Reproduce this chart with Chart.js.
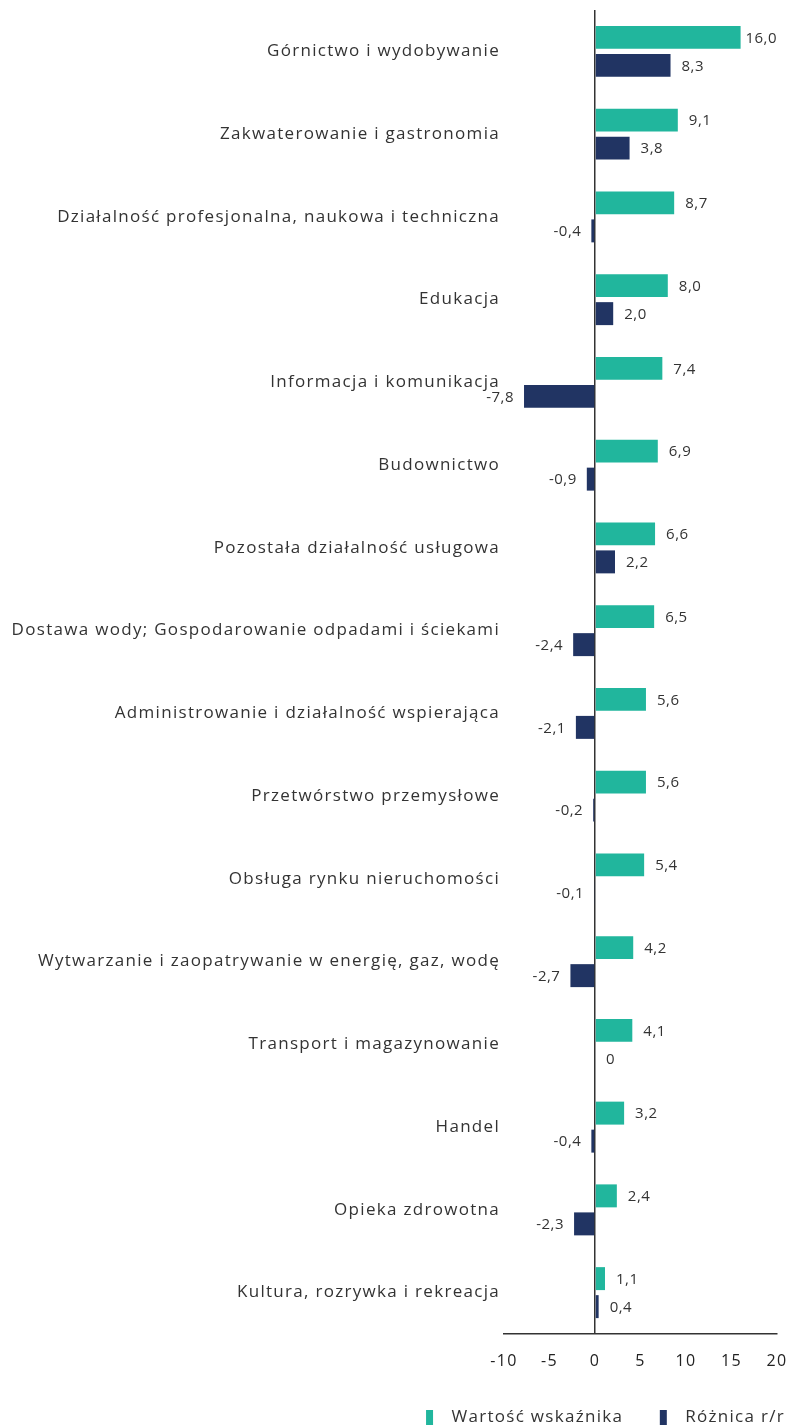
<!DOCTYPE html>
<html lang="pl">
<head>
<meta charset="utf-8">
<script src="https://cdn.jsdelivr.net/npm/chart.js@4.4.0/dist/chart.umd.min.js"></script>
<style>
  html, body { margin: 0; padding: 0; background: #fff; }
  #wrap { width: 793px; height: 1426px; position: relative; }
</style>
</head>
<body>
<div id="wrap"><canvas id="chart"></canvas></div>
<script>
const categories = [
  'Górnictwo i wydobywanie',
  'Zakwaterowanie i gastronomia',
  'Działalność profesjonalna, naukowa i techniczna',
  'Edukacja',
  'Informacja i komunikacja',
  'Budownictwo',
  'Pozostała działalność usługowa',
  'Dostawa wody; Gospodarowanie odpadami i ściekami',
  'Administrowanie i działalność wspierająca',
  'Przetwórstwo przemysłowe',
  'Obsługa rynku nieruchomości',
  'Wytwarzanie i zaopatrywanie w energię, gaz, wodę',
  'Transport i magazynowanie',
  'Handel',
  'Opieka zdrowotna',
  'Kultura, rozrywka i rekreacja'
];
const wartosc = [16.0, 9.1, 8.7, 8.0, 7.4, 6.9, 6.6, 6.5, 5.6, 5.6, 5.4, 4.2, 4.1, 3.2, 2.4, 1.1];
const roznica = [8.3, 3.8, -0.4, 2.0, -7.8, -0.9, 2.2, -2.4, -2.1, -0.2, -0.1, -2.7, 0, -0.4, -2.3, 0.4];
const xMin = -10, xMax = 20, xStep = 5;

const FONT = '"Open Sans", "Noto Sans", sans-serif';
const TEXT = '#333333';
const BOTTOM_SPACE = 92;   // x labels + legend under the plot

const fmt = v => v === 0 ? '0' : v.toFixed(1).replace('.', ',');

// a bit of tracking so the labels run wider
const spacing = {
  id: 'spacing',
  beforeLayout(chart) { chart.ctx.letterSpacing = '1.3px'; },
  beforeDraw(chart) { chart.ctx.letterSpacing = '1.3px'; }
};

// value labels next to each bar
const valueLabels = {
  id: 'valueLabels',
  afterDatasetsDraw(chart) {
    const { ctx, chartArea } = chart;
    ctx.save();
    ctx.letterSpacing = '0.5px';
    ctx.font = '15px ' + FONT;
    ctx.fillStyle = TEXT;
    ctx.textBaseline = 'middle';
    chart.data.datasets.forEach((ds, i) => {
      chart.getDatasetMeta(i).data.forEach((bar, j) => {
        const v = ds.data[j];
        const txt = fmt(v);
        const w = ctx.measureText(txt).width;
        if (v < 0) {
          ctx.textAlign = 'right';
          ctx.fillText(txt, bar.x - 10, bar.y + 1);
        } else {
          ctx.textAlign = 'left';
          let x = bar.x + 11;
          if (x + w > chartArea.right) x = chartArea.right - w;
          ctx.fillText(txt, x, bar.y + 1);
        }
      });
    });
    ctx.restore();
  }
};

new Chart(document.getElementById('chart'), {
  type: 'bar',
  data: {
    labels: categories,
    datasets: [
      { label: 'Wartość wskaźnika', data: wartosc, backgroundColor: '#21b69d' },
      { label: 'Różnica r/r', data: roznica, backgroundColor: '#213463' }
    ]
  },
  options: {
    indexAxis: 'y',
    responsive: true,
    maintainAspectRatio: false,
    animation: false,
    categoryPercentage: 0.677,
    barPercentage: 0.82,
    layout: { padding: { top: 10, right: 0, left: 0, bottom: -10 } },
    scales: {
      x: {
        min: xMin,
        max: xMax,
        ticks: {
          stepSize: xStep,
          color: '#222',
          font: { family: FONT, size: 16 },
          padding: 18,
          callback: v => String(v)
        },
        grid: {
          drawTicks: false,
          lineWidth: 1.5,
          color: c => (c.tick && c.tick.value === 0) ? '#333' : 'rgba(0,0,0,0)'
        },
        border: { display: true, color: '#333', width: 1.5 },
        afterFit(scale) {
          scale.height = BOTTOM_SPACE + 10 - scale.chart.legend.height;
          scale.paddingLeft = 0;
          scale.paddingRight = 16;
        }
      },
      y: {
        ticks: {
          color: TEXT,
          font: { family: FONT, size: 17 },
          padding: 4
        },
        grid: { display: false, drawTicks: false },
        border: { display: false },
        afterFit(scale) {
          scale.width = 504;
          scale.paddingTop = 0;
          scale.paddingBottom = 0;
        }
      }
    },
    plugins: {
      tooltip: { enabled: false },
      legend: {
        position: 'bottom',
        align: 'end',
        labels: {
          boxWidth: 7,
          boxHeight: 15,
          padding: 8,
          color: TEXT,
          font: { family: FONT, size: 17 },
          generateLabels(chart) {
            const items = Chart.defaults.plugins.legend.labels.generateLabels(chart);
            items.forEach((item, i) => {
              item.text = ' \u2009' + item.text + (i < items.length - 1 ? '     ' : '');
              item.lineWidth = 0;
            });
            return items;
          }
        }
      }
    }
  },
  plugins: [spacing, valueLabels]
});
</script>
</body>
</html>
